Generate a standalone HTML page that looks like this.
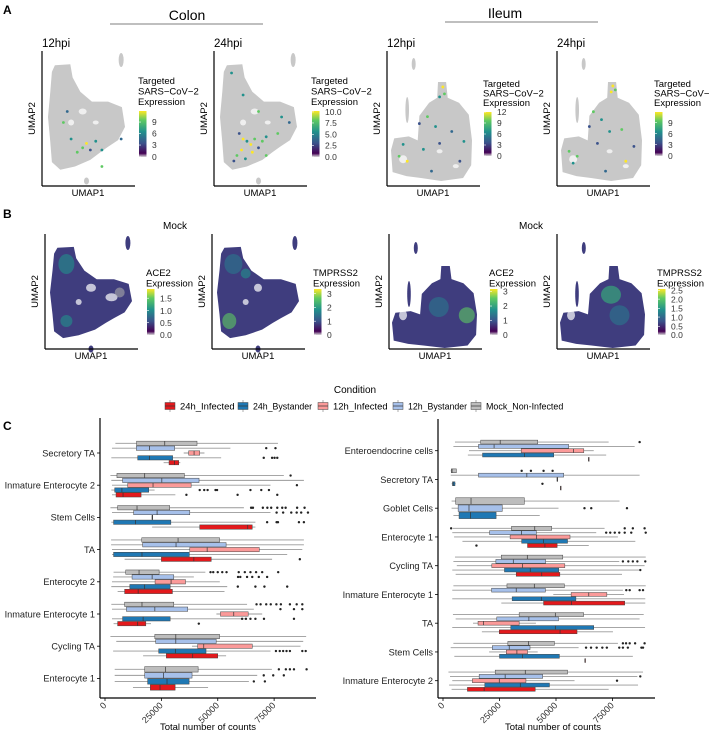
<!DOCTYPE html>
<html><head><meta charset="utf-8"><style>
body{margin:0;background:#fff;}
svg{display:block;font-family:"Liberation Sans",sans-serif;}
</style></head><body>
<svg id="fig" width="709" height="735" viewBox="0 0 709 735" xmlns="http://www.w3.org/2000/svg">
<defs>
<linearGradient id="vir" x1="0" y1="1" x2="0" y2="0">
<stop offset="0" stop-color="#d9d9d9"/><stop offset="0.08" stop-color="#440154"/><stop offset="0.3" stop-color="#3b528b"/><stop offset="0.55" stop-color="#21918c"/><stop offset="0.8" stop-color="#5ec962"/><stop offset="1" stop-color="#fde725"/>
</linearGradient>
</defs>
<g id="panelA"></g>
<g id="panelB"></g>
<g id="legendC"></g>
<g id="chartL"></g>
<g id="chartR"></g>
</svg>
<script>
// ---------- Boxplot data (values in thousands of counts) ----------
const groupNames = ["Mock_Non-Infected","12h_Bystander","12h_Infected","24h_Bystander","24h_Infected"];
const groupColors = ["#bdbdbd","#a6c0ea","#fb9a99","#1f78b4","#e3191c"];

const leftCategories = ["Secretory TA","Inmature Enterocyte 2","Stem Cells","TA","Enterocyte 2","Inmature Enterocyte 1","Cycling TA","Enterocyte 1"];
const leftMock = [[4.6,14,26.5,40.8,76.7],[2.4,5.3,17.6,35.2,79.3],[2.4,5.6,14.2,28.7,61.6],[2.7,16.3,32.4,50.8,88.2],[3.8,9.2,15.1,24,44.5],[2.8,8.7,16.4,30.5,63],[2.4,22.1,31.4,50.8,89.2],[4.3,17.6,26.8,41.3,74]];
const leftBys12 = [[3.1,13.9,19.7,30.9,55.6],[2.8,7.8,25.2,41.7,88.2],[3.1,12.7,23.1,37.6,73.4],[2.7,16.7,31.5,53.7,88.2],[3.6,12,20.9,30.5,39.4],[3.1,9.5,22.1,36.7,66],[5,22.5,31.4,49.3,87.9],[4.3,17.6,26,38.6,67.5]];
const leftInf12 = [[34.9,37.1,39.5,42,44.1],[3.1,10.1,21.3,38.2,73.4],[20.9,20.9,20.9,20.9,20.9],[3.1,37.6,45.3,68.4,87.5],[3.1,22.2,29.3,35.7,50.9],[49.4,51.2,57.1,63.5,69.7],[38.6,41.1,43.8,65.3,86.7],null];
const leftBys24 = [[2.8,14.5,19.7,30,51.5],[2.8,4.3,7.5,19.4,22],[2.8,3.8,13.5,29.2,66.7],[3.1,3.8,16.4,37.4,80.8],[2.8,11,17.6,28.9,54.2],[3.1,7.8,16.9,28.9,63],[3.6,23.8,31.2,44.8,73.4],[4.3,18.9,27.5,37.3,63.8]];
const leftInf24 = [[26,28.4,30.8,32.7,33.4],[3.1,4.9,8,16,31.2],[20.9,42,63.3,65.3,66.7],[8.7,25,39.4,47.1,74.1],[5.6,8.7,14.7,29.9,53],[3.8,5.6,14.5,18.1,20.4],[16.9,27.2,38.9,50,53.7],[12.4,20.1,24.4,31.1,45.7]];
const leftMockOut = [[],[82.3],[64.8,65.6,70,72,73.7,76.4,78.6,80.1,85.2,88.5],[],[46.8,48,50,52,53.9,59.3,62,64.5,67,69.7,76.8],[67.2,69,71.5,73.5,76,78,82,85,87.5],[],[77.1,80.2,82,83.8,89.4]];
const leftBys12Out = [[71.5,75.6],[],[76.1,79,82.6,85,87,90],[],[59,60,63,65.3,68.2,71.9],[77.8,83.8,87.5],[],[70.4,74.6,79.3]];
const leftInf12Out = [[],[85.1],[],[],[],[],[],[]];
const leftBys24Out = [[70.4,74.1,75.2,76.4],[42,44,45.5,49,49.7,64.5,69.3,72.7],[71.9,76.1,76.7,86,88.2],[],[58.9,66.7,70.7,80.8],[60.8,62.5,64.5,66.7,70.5,83.8],[75.8,77.5,79,80.5,82,87.5,89],[66,70.9]];
const leftInf24Out = [[],[36.1,58.8,76.4],[],[86.4],[],[41.6],[],[]];

const rightCategories = ["Enteroendocrine cells","Secretory TA","Goblet Cells","Enterocyte 1","Cycling TA","Inmature Enterocyte 1","TA","Stem Cells","Inmature Enterocyte 2"];
const rightMock = [[5.3,16.7,25.3,41.9,73.3],[3.4,3.7,4,5.9,6],[3.8,5.6,12.4,36,78.1],[4.4,30.3,40.6,48.1,71.5],[5.3,25.8,37.3,53,89.7],[4.6,28.3,40.4,53.7,89.7],[4.4,33.7,49.7,62.2,88.8],[4.6,28.7,37.9,49.3,77.4],[2.4,23.1,36.4,55.1,88.5]];
const rightBys12 = [[4.6,15.7,22.6,55.6,84.8],[3.4,15.7,37.1,53.4,87],[3.8,6.7,11.5,26.2,51.1],[4.1,20.6,34.8,41.3,67.8],[4.6,23.4,31.1,45.4,78],[4.1,21.5,32.4,45.3,79.6],[5.6,23.8,38,51.1,87],[3.4,21.8,29.3,38.5,60],[3.1,16,27.5,44.1,86]];
const rightInf12 = [[11.5,34.6,57.7,62.3,66.7],[50.5,50.5,50.5,50.5,50.5],null,[4.9,29.7,41.3,56.2,77.4],[6.1,21.6,35.2,53.9,89.2],[48.8,56.7,64.5,72.5,80.1],[13.3,15.5,17.9,33.7,41.1],[20.4,28,32.7,37.4,41.9],[4.1,13,24.9,36.7,58.2]];
const rightBys24 = [[11,17.5,36,49,72.2],[3.8,4.2,4.5,5.3,5.6],[4.6,7.1,12.1,23.5,42.8],[8.6,34.8,44.4,55.1,85.1],[4.1,27.2,38.6,51.2,86.7],[4.1,30.6,43.5,58.8,89.5],[4.1,30,49.7,66.7,89.4],[5,25,35.2,51.5,84],[2.7,18.5,34.2,47.1,86.3]];
const rightInf24 = [[64.4,64.4,64.4,64.4,64.4],[52,52,52,52,52],null,[37.4,37.4,45.1,50.5,64.5],[5.6,32.4,43.7,51.7,79.2],[25.8,44.5,56.8,80.4,89.5],[17.2,24.9,51.8,59.3,75.2],[62.8,62.8,62.8,62.8,62.8],[3.8,10.8,18.2,40.8,73.3]];
const rightMockOut = [[87],[34.8,38.9,44.5,48.5],[],[3.6,80.4,84,89.2],[],[],[],[79.6,81,82.6,85,89.2],[]];
const rightBys12Out = [[],[],[62.6,65.6,81.4],[72.2,74,76,78,80.4,83.3,89.7],[79.6,82,84,86,89.5],[81.1,82.6,87,88.5],[],[63.3,65.5,68,70.5,72.5,78,79.6,81.8,87.8,88.5],[87.3]];
const rightInf12Out = [[],[],[],[],[],[],[],[],[77]];
const rightBys24Out = [[],[44],[],[],[87.3],[],[],[],[]];
const rightInf24Out = [[],[],[],[14.8],[],[],[],[],[]];

const xTicks = [0,25,50,75];
const xTickLabels = ["0","25000","50000","75000"];

const NS="http://www.w3.org/2000/svg";
function mk(tag,attrs,parent){const e=document.createElementNS(NS,tag);for(const k in attrs)e.setAttribute(k,attrs[k]);if(parent)parent.appendChild(e);return e;}
function txt(parent,x,y,s,size,anchor,extra){const t=mk('text',Object.assign({x:x,y:y,'font-size':size,'text-anchor':anchor||'start',fill:'#000'},extra||{}),parent);t.textContent=s;return t;}

function drawBox(gid,cfg){
  const g=document.getElementById(gid);
  const xs=v=>cfg.x0+v*cfg.pxPer1k;
  const ys=i=>cfg.yc0+i*cfg.band;
  const series=[cfg.mock,cfg.b12,cfg.i12,cfg.b24,cfg.i24];
  const outs=[cfg.mockO,cfg.b12O,cfg.i12O,cfg.b24O,cfg.i24O];
  const dodge=cfg.band*0.75;
  cfg.cats.forEach((c,i)=>{
    const present=[];series.forEach((s,k)=>{if(s[i])present.push(k);});
    const sp=dodge/present.length;const h=sp*0.9;
    const lab=txt(g,cfg.axisX-5,ys(i)+3.3,c,9.2,'end',{fill:'#222'});
    
    
    mk('line',{x1:cfg.axisX-3,x2:cfg.axisX,y1:ys(i),y2:ys(i),stroke:'#000','stroke-width':0.8},g);
    present.forEach((k,j)=>{
      const d=series[k][i];const yc=ys(i)-dodge/2+sp*(j+0.5);
      const bg=mk('g',{},g);
      
      
      mk('line',{x1:xs(d[0]),x2:xs(d[4]),y1:yc,y2:yc,stroke:'#999','stroke-width':0.9},bg);
      mk('rect',{x:xs(d[1]),y:yc-h/2,width:Math.max(0.6,xs(d[3])-xs(d[1])),height:h,fill:groupColors[k],stroke:'#444','stroke-width':0.5},bg);
      mk('line',{x1:xs(d[2]),x2:xs(d[2]),y1:yc-h/2,y2:yc+h/2,stroke:'#333','stroke-width':0.7},bg);
      (outs[k][i]||[]).forEach(o=>{const p=mk('circle',{cx:xs(o),cy:yc,r:1.2,fill:'#222'},bg);});
    });
  });
  mk('line',{x1:cfg.axisX,x2:cfg.axisX,y1:cfg.top,y2:cfg.bottom,stroke:'#000','stroke-width':1.2},g);
  mk('line',{x1:cfg.axisX,x2:cfg.xEnd,y1:cfg.bottom,y2:cfg.bottom,stroke:'#000','stroke-width':1.2},g);
  xTicks.forEach((v,i)=>{
    mk('line',{x1:xs(v),x2:xs(v),y1:cfg.bottom,y2:cfg.bottom+3,stroke:'#000','stroke-width':0.8},g);
    const t=txt(g,xs(v)+2,cfg.bottom+8,xTickLabels[i],9,'end',{fill:'#333',transform:'rotate(-45 '+(xs(v)+2)+' '+(cfg.bottom+8)+')'});
    
    
  });
  const xt=txt(g,cfg.titleX,730,'Total number of counts',9.5,'middle');
  
  
}
drawBox('chartL',{cats:leftCategories,mock:leftMock,b12:leftBys12,i12:leftInf12,b24:leftBys24,i24:leftInf24,mockO:leftMockOut,b12O:leftBys12Out,i12O:leftInf12Out,b24O:leftBys24Out,i24O:leftInf24Out,x0:105,pxPer1k:2.255,yc0:453,band:32.2,axisX:100,top:418,bottom:698,xEnd:316,titleX:208});
drawBox('chartR',{cats:rightCategories,mock:rightMock,b12:rightBys12,i12:rightInf12,b24:rightBys24,i24:rightInf24,mockO:rightMockOut,b12O:rightBys12Out,i12O:rightInf12Out,b24O:rightBys24Out,i24O:rightInf24Out,x0:443,pxPer1k:2.26,yc0:450.7,band:28.75,axisX:438,top:419,bottom:698,xEnd:655,titleX:553});

// ---------- legend ----------
(function(){
  const g=document.getElementById('legendC');
  txt(g,355,393,'Condition',10,'middle');
  const order=[4,3,2,1,0];const kx=[165,238,318,393,471];
  order.forEach((k,j)=>{
    const e=mk('g',{},g);
    
    
    mk('line',{x1:kx[j]+5,x2:kx[j]+5,y1:400,y2:412,stroke:'#999','stroke-width':0.8},e);
    mk('rect',{x:kx[j],y:402.5,width:10,height:7,fill:groupColors[k],stroke:'#444','stroke-width':0.5},e);
    mk('line',{x1:kx[j],x2:kx[j]+10,y1:406,y2:406,stroke:'#333','stroke-width':0.7},e);
    txt(e,kx[j]+15,409.5,groupNames[k],9,'start',{textLength:(groupNames[k].length*4.55).toFixed(1),lengthAdjust:'spacingAndGlyphs'});
  });
})();

// ---------- UMAP panels (decorative) ----------
const colonShape=[[.09,.03],[.29,.02],[.32,.14],[.42,.27],[.57,.36],[.78,.36],[.96,.41],[1,.59],[.91,.71],[.78,.77],[.68,.82],[.55,.89],[.35,.95],[.16,.98],[.05,.91],[.03,.73],[0,.5],[.03,.27],[.05,.09]];
const ileumShape=[[.58,0],[.68,0],[.7,.16],[.84,.21],[.96,.33],[1,.59],[.99,.84],[.89,.97],[.62,1],[.37,.97],[.19,.95],[.02,.91],[0,.69],[.04,.57],[.22,.55],[.33,.59],[.35,.34],[.47,.21],[.57,.16]];
function blob(g,shape,bx,by,bw,bh,fill){
  const pts=shape.map(p=>(bx+p[0]*bw).toFixed(1)+','+(by+p[1]*bh).toFixed(1)).join(' ');
  mk('polygon',{points:pts,fill:fill},g);
}
function umap(parent,o){
  const g=mk('g',{},parent);
  
  
  if(o.title)txt(g,o.ax,o.titleY,o.title,11.5,'start');
  if(o.type==='colon'){
    blob(g,colonShape,o.bx,o.by,o.bw,o.bh,o.fill);
    mk('ellipse',{cx:o.bx+o.bw*0.95,cy:o.by-2,rx:2.5,ry:7,fill:o.fill},g);
    mk('ellipse',{cx:o.bx+o.bw*0.5,cy:o.by+o.bh+9,rx:2.5,ry:3.5,fill:o.fill},g);
  } else {
    blob(g,ileumShape,o.bx,o.by,o.bw,o.bh,o.fill);
    mk('ellipse',{cx:o.bx+o.bw*0.28,cy:o.by-18,rx:2,ry:6,fill:o.fill},g);
    mk('ellipse',{cx:o.bx+o.bw*0.2,cy:o.by+28,rx:1.8,ry:13,fill:o.fill},g);
  }
  if(o.white){o.white.forEach(w=>mk('ellipse',{cx:o.bx+w[0]*o.bw,cy:o.by+w[1]*o.bh,rx:w[2],ry:w[3],fill:'#fff',opacity:0.7},g));}
  (o.spots||[]).forEach(s=>mk('ellipse',{cx:o.bx+s[0]*o.bw,cy:o.by+s[1]*o.bh,rx:s[2],ry:s[3],fill:s[4],opacity:0.6},g));
  (o.dots||[]).forEach(d=>mk('circle',{cx:o.bx+d[0]*o.bw,cy:o.by+d[1]*o.bh,r:1.4,fill:d[2]},g));
  mk('line',{x1:o.ax,x2:o.ax,y1:o.top,y2:o.bot,stroke:'#000','stroke-width':1.2},g);
  mk('line',{x1:o.ax,x2:o.ax+93,y1:o.bot,y2:o.bot,stroke:'#000','stroke-width':1.2},g);
  txt(g,o.ax+46,o.bot+10,'UMAP1',9.5,'middle');
  txt(g,o.ax-7,(o.top+o.bot)/2,'UMAP2',9.5,'middle',{transform:'rotate(-90 '+(o.ax-7)+' '+((o.top+o.bot)/2)+')'});
  const L=o.leg;let y=L.y;
  L.lines.forEach(s=>{txt(g,L.x,y,s,9.5,'start');y+=L.sp||10.5;});
  mk('rect',{x:L.x+1,y:L.cbTop,width:7.5,height:L.cbH,fill:'url(#vir)'},g);
  L.ticks.forEach((t,i)=>{const ty=L.cbTop+L.tickPos[i]*L.cbH;txt(g,L.x+14,ty+3.2,t,8.5,'start',{fill:'#333'});mk('line',{x1:L.x+1,x2:L.x+3,y1:ty,y2:ty,stroke:'#fff','stroke-width':0.6},g);});
}
const pA=document.getElementById('panelA');
txt(pA,3,14,'A',12,'start',{'font-weight':'bold'});
txt(pA,187,20,'Colon',14,'middle');
mk('line',{x1:110,x2:263,y1:24,y2:24,stroke:'#555','stroke-width':0.8},pA);
txt(pA,505,18,'Ileum',14,'middle');
mk('line',{x1:445,x2:598,y1:22,y2:22,stroke:'#555','stroke-width':0.8},pA);
const gr='#c8c8c8';
const colWhite=[[.45,.45,4,3],[.3,.55,3,3],[.62,.55,3,2]];
umap(pA,{type:'colon',title:'12hpi',titleY:47,ax:42,top:51,bot:186,bx:48,by:62,bw:77,bh:110,fill:gr,white:colWhite,
 dots:[[.3,.7,'#21918c'],[.5,.74,'#fde725'],[.45,.78,'#5ec962'],[.55,.8,'#3b528b'],[.38,.82,'#5ec962'],[.62,.72,'#21918c'],[.25,.45,'#31688e'],[.7,.8,'#21918c'],[.95,.7,'#31688e'],[.7,.95,'#5ec962'],[.2,.55,'#5ec962']],
 leg:{x:138,y:84,lines:['Targeted','SARS\u2212CoV\u22122','Expression'],cbTop:111,cbH:46,ticks:['9','6','3','0'],tickPos:[0.24,0.49,0.74,1]}});
umap(pA,{type:'colon',title:'24hpi',titleY:47,ax:214,top:51,bot:186,bx:220,by:62,bw:77,bh:110,fill:gr,white:colWhite,
 dots:[[.3,.7,'#fde725'],[.35,.72,'#21918c'],[.4,.75,'#fde725'],[.45,.7,'#5ec962'],[.5,.78,'#3b528b'],[.28,.8,'#fde725'],[.22,.85,'#5ec962'],[.33,.88,'#21918c'],[.18,.9,'#3b528b'],[.55,.72,'#5ec962'],[.6,.68,'#21918c'],[.42,.82,'#fde725'],[.15,.1,'#21918c'],[.3,.3,'#21918c'],[.5,.45,'#5ec962'],[.8,.5,'#21918c'],[.9,.55,'#31688e'],[.75,.65,'#5ec962'],[.25,.65,'#3b528b'],[.6,.85,'#5ec962']],
 leg:{x:311,y:84,lines:['Targeted','SARS\u2212CoV\u22122','Expression'],cbTop:111,cbH:46,ticks:['10.0','7.5','5.0','2.5','0.0'],tickPos:[0.02,0.26,0.51,0.75,1]}});
const ilWhite=[[.15,.78,4,4],[.6,.7,3,2],[.8,.85,3,2]];
umap(pA,{type:'ileum',title:'12hpi',titleY:47,ax:387,top:51,bot:186,bx:391,by:82,bw:81,bh:99,fill:gr,white:ilWhite,
 dots:[[.64,.05,'#fde725'],[.66,.12,'#5ec962'],[.6,.15,'#21918c'],[.45,.35,'#5ec962'],[.35,.42,'#3b528b'],[.55,.45,'#21918c'],[.75,.5,'#31688e'],[.9,.6,'#21918c'],[.15,.63,'#21918c'],[.2,.8,'#fde725'],[.1,.75,'#5ec962'],[.4,.68,'#21918c'],[.6,.62,'#3b528b'],[.85,.8,'#3b528b'],[.5,.9,'#31688e']],
 leg:{x:483,y:87,sp:9.5,lines:['Targeted','SARS\u2212CoV\u22122','Expression'],cbTop:112,cbH:44,ticks:['12','9','6','3','0'],tickPos:[0,0.25,0.5,0.75,1]}});
umap(pA,{type:'ileum',title:'24hpi',titleY:47,ax:557,top:51,bot:186,bx:561,by:82,bw:81,bh:99,fill:gr,white:ilWhite,
 dots:[[.64,.04,'#fde725'],[.62,.1,'#fde725'],[.67,.08,'#5ec962'],[.4,.3,'#5ec962'],[.5,.38,'#21918c'],[.35,.45,'#3b528b'],[.6,.5,'#21918c'],[.75,.48,'#5ec962'],[.1,.7,'#5ec962'],[.15,.82,'#21918c'],[.2,.75,'#5ec962'],[.45,.62,'#3b528b'],[.9,.65,'#3b528b'],[.8,.8,'#fde725'],[.55,.9,'#31688e']],
 leg:{x:654,y:87,sp:9.5,lines:['Targeted','SARS\u2212CoV\u22122','Expression'],cbTop:112,cbH:44,ticks:['9','6','3','0'],tickPos:[0.24,0.49,0.74,1]}});

const pB=document.getElementById('panelB');
txt(pB,3,218,'B',12,'start',{'font-weight':'bold'});
txt(pB,175,229,'Mock',10,'middle');
txt(pB,531,229,'Mock',10,'middle');
const pur='#3f3d7e';
umap(pB,{type:'colon',ax:45,top:234,bot:349,bx:50,by:245,bw:82,bh:95,fill:pur,white:[[.5,.45,5,4],[.75,.55,6,4],[.35,.6,3,3]],
 spots:[[.2,.2,8,10,'#21918c'],[.2,.8,6,6,'#21918c'],[.85,.5,5,5,'#aaaaaa']],
 leg:{x:146,y:276,lines:['ACE2','Expression'],cbTop:289,cbH:46,ticks:['1.5','1.0','0.5','0.0'],tickPos:[0.2,0.47,0.73,1]}});
umap(pB,{type:'colon',ax:212,top:234,bot:349,bx:217,by:245,bw:82,bh:95,fill:pur,white:[[.5,.45,4,4],[.35,.6,3,3]],
 spots:[[.2,.2,9,10,'#2a788e'],[.15,.8,7,8,'#5ec962'],[.35,.3,5,5,'#21918c']],
 leg:{x:313,y:276,lines:['TMPRSS2','Expression'],cbTop:289,cbH:46,ticks:['3','2','1','0'],tickPos:[0.1,0.4,0.7,1]}});
umap(pB,{type:'ileum',ax:389,top:234,bot:349,bx:392,by:266,bw:85,bh:82,fill:pur,white:[[.13,.6,4,5]],
 spots:[[.88,.6,8,8,'#5ec962'],[.55,.5,10,10,'#2a788e']],
 leg:{x:489,y:276,lines:['ACE2','Expression'],cbTop:289,cbH:46,ticks:['3','2','1','0'],tickPos:[0.05,0.37,0.68,1]}});
umap(pB,{type:'ileum',ax:557,top:234,bot:349,bx:560,by:266,bw:85,bh:82,fill:pur,white:[[.13,.6,4,5]],
 spots:[[.6,.35,10,9,'#35b779'],[.7,.6,10,10,'#2a788e']],
 leg:{x:657,y:276,lines:['TMPRSS2','Expression'],cbTop:289,cbH:46,ticks:['2.5','2.0','1.5','1.0','0.5','0.0'],tickPos:[0.03,0.22,0.42,0.61,0.81,1]}});

txt(document.getElementById('chartL'),3,430,'C',12,'start',{'font-weight':'bold'});
</script>
</body></html>
